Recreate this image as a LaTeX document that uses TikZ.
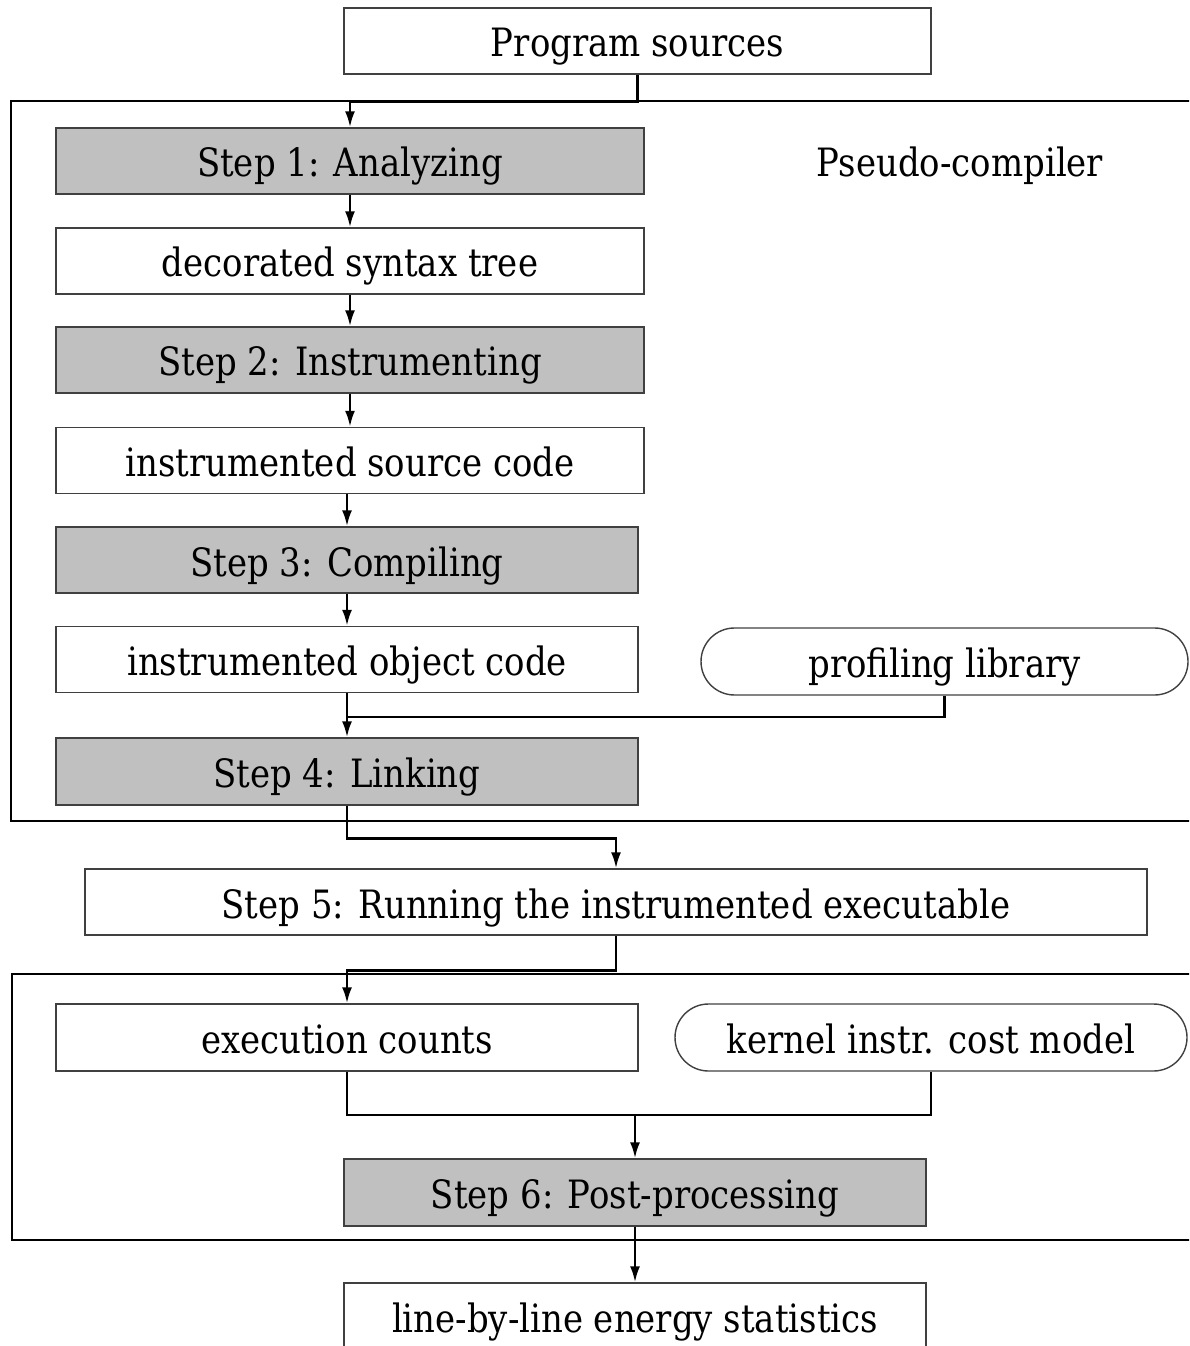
\documentclass[tikz,border=0pt]{standalone}
\usepackage{fontspec}
\setmainfont[FakeStretch=0.87]{DejaVu Serif}
\usetikzlibrary{arrows.meta,shapes.misc}
\definecolor{stepgray}{HTML}{C0C0C0}
\definecolor{edgegray}{HTML}{404040}
\begin{document}
\begin{tikzpicture}[
  x=1cm, y=1cm,
  every node/.style={font=\fontsize{11.1}{13}\selectfont, inner sep=0pt,
    text height=0.40cm, text depth=0.08cm},
  databox/.style={draw=edgegray, line width=0.4pt, fill=white, minimum height=0.66cm},
  stepbox/.style={databox, fill=stepgray},
  libbox/.style={draw=edgegray, line width=0.4pt, rounded rectangle, minimum height=0.67cm},
  frame/.style={draw=black, line width=0.45pt},
  conn/.style={draw=black, line width=0.7pt},
  arr/.style={conn, -{Latex[length=0.16cm, width=0.10cm]}}
]
\useasboundingbox (0,0) rectangle (11.89,-13.46);
\clip (0,0) rectangle (11.89,-13.46);

% enclosing frames
\draw[frame] (0.11,-1.01) rectangle (12.2,-8.21);
\draw[frame] (0.12,-9.74) rectangle (12.2,-12.40);

% program sources and the pseudo-compiler steps
\node[databox, minimum width=5.87cm] (src) at (6.375,-0.41) {Program sources};
\node (pclabel) at (9.60,-1.61) {Pseudo-compiler};
\node[stepbox, minimum width=5.88cm] (s1) at (3.50,-1.61) {Step 1: Analyzing};
\node[databox, minimum width=5.88cm] (dst) at (3.50,-2.61) {decorated syntax tree};
\node[stepbox, minimum width=5.88cm] (s2) at (3.50,-3.60) {Step 2: Instrumenting};
\node[databox, minimum width=5.88cm] (isc) at (3.50,-4.605) {instrumented source code};
\node[stepbox, minimum width=5.82cm] (s3) at (3.47,-5.60) {Step 3: Compiling};
\node[databox, minimum width=5.82cm] (ioc) at (3.47,-6.595) {instrumented object code};
\node[libbox, minimum width=4.87cm] (prof) at (9.445,-6.615) {profiling library};
\node[stepbox, minimum width=5.82cm, minimum height=0.67cm] (s4) at (3.47,-7.715) {Step 4: Linking};

% running
\node[databox, minimum width=10.62cm] (s5) at (6.16,-9.02) {Step 5: Running the instrumented executable};

% post-processing
\node[databox, minimum width=5.82cm, minimum height=0.67cm] (exec) at (3.47,-10.375) {execution counts};
\node[libbox, minimum width=5.12cm] (kern) at (9.31,-10.375) {kernel instr. cost model};
\node[stepbox, minimum width=5.82cm, minimum height=0.67cm] (s6) at (6.35,-11.925) {Step 6: Post-processing};
\node[databox, minimum width=5.82cm] (lbl) at (6.35,-13.16) {line-by-line energy statistics};

% junction points
\coordinate (j1) at (3.47,-7.17);
\coordinate (j2) at (6.35,-11.15);

% connectors
\draw[arr] (src.south) -- ++(0,-0.27) -| (s1.north);
\draw[arr] (s1) -- (dst);
\draw[arr] (dst) -- (s2);
\draw[arr] (s2) -- (isc);
\draw[arr] (s3.north |- isc.south) -- (s3.north);
\draw[arr] (s3) -- (ioc);
\draw[arr] (ioc) -- (s4);
\draw[conn] (prof.south) |- (j1);
\draw[arr] (s4.south) -- ++(0,-0.33) -| (s5.north);
\draw[arr] (s5.south) -- ++(0,-0.35) -| (exec.north);
\draw[conn] (exec.south) |- (j2) -| (kern.south);
\draw[arr] (j2) -- (s6.north);
\draw[arr] (s6) -- (lbl);
\end{tikzpicture}
\end{document}
